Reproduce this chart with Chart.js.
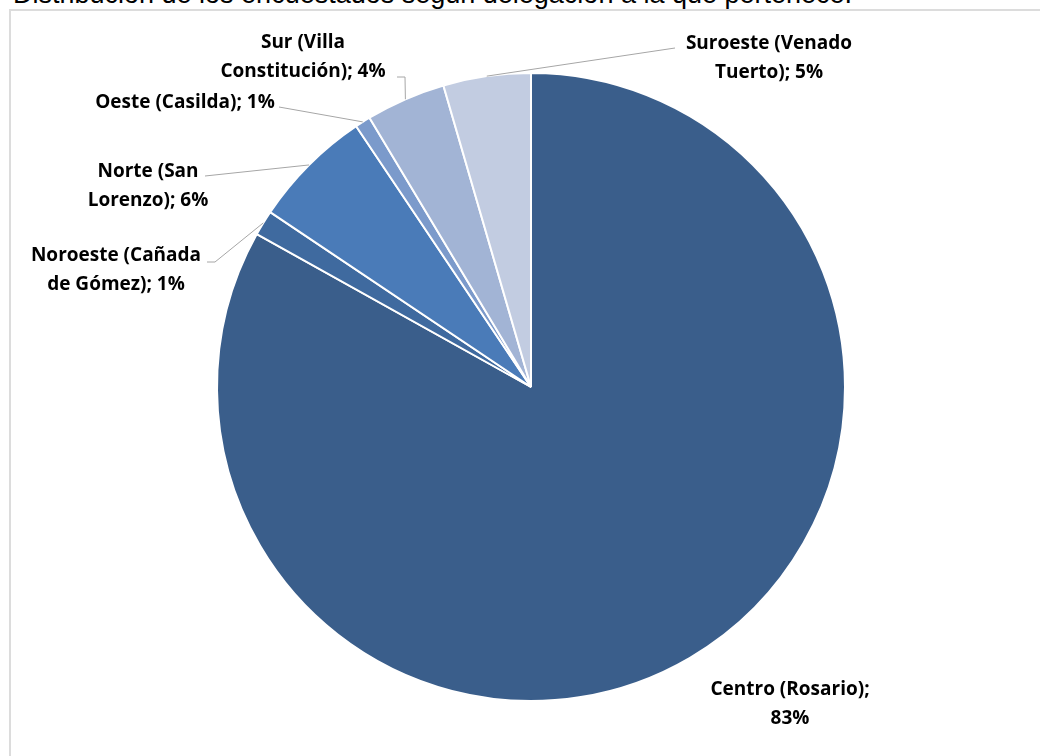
<!DOCTYPE html>
<html>
<head>
<meta charset="utf-8">
<script src="https://cdn.jsdelivr.net/npm/chart.js@4.4.1/dist/chart.umd.min.js"></script>
<style>
  html, body { margin: 0; padding: 0; background: #fff; overflow: hidden; }
  #title {
    position: absolute; left: 13px; top: -19px;
    font: 27px "Liberation Sans", Arial, sans-serif; line-height: 27px;
    color: #000; white-space: nowrap;
  }
  #frame {
    position: absolute; left: 9px; top: 9px; width: 1100px; height: 800px;
    border: 2px solid #dcdcdc; box-sizing: border-box;
  }
  #wrap { position: absolute; left: 0; top: 0; width: 1040px; height: 756px; }
</style>
</head>
<body>
<div id="title">Distribución de los encuestados según delegación a la que pertenece.</div>
<div id="frame"></div>
<div id="wrap"><canvas id="pie-chart"></canvas></div>
<script>
// delegaciones, en el orden del gráfico (desde las 12 en sentido horario)
var categories = ["Centro (Rosario)", "Noroeste (Cañada de Gómez)", "Norte (San Lorenzo)",
  "Oeste (Casilda)", "Sur (Villa Constitución)", "Suroeste (Venado Tuerto)"];
var shares = [83.1, 1.3, 6.2, 0.8, 4.1, 4.5];
var colors = ["#3a5e8b", "#3f6a9f", "#4a7bb8", "#7b9acb", "#a2b4d5", "#c2cce1"];

// posicion de las etiquetas respecto al centro de la torta (solo estilo)
var labelLayout = [
  { dx: 259, dy: 308, wrap: 180, leader: null },
  { dx: -415, dy: -126, wrap: 185, leader: [[-324, -125], [-316, -125]] },
  { dx: -383, dy: -210, wrap: 140, leader: [[-326, -211]] },
  { dx: -346, dy: -279, wrap: 240, leader: [[-252, -280]] },
  { dx: -228, dy: -339, wrap: 195, leader: [[-134, -310], [-126, -310]] },
  { dx: 238, dy: -338, wrap: 185, leader: [[144, -339]] }
];
var labelFont = 'bold 19px "Open Sans", sans-serif';
var lineGap = 29;

function wrapText(ctx, text, maxWidth) {
  var words = text.split(" ");
  var lines = [];
  var line = "";
  words.forEach(function (w) {
    var test = line ? line + " " + w : w;
    if (line && ctx.measureText(test).width > maxWidth) {
      lines.push(line);
      line = w;
    } else {
      line = test;
    }
  });
  if (line) lines.push(line);
  return lines;
}

var pieLabels = {
  id: "pieLabels",
  afterDatasetsDraw: function (chart) {
    var ctx = chart.ctx;
    var arcs = chart.getDatasetMeta(0).data;
    ctx.save();
    ctx.font = labelFont;
    arcs.forEach(function (arc, i) {
      var p = arc.getProps(["x", "y", "startAngle", "endAngle", "outerRadius"], true);
      var lay = labelLayout[i];
      var mid = (p.startAngle + p.endAngle) / 2;
      if (lay.leader) {
        ctx.strokeStyle = "#a6a6a6";
        ctx.lineWidth = 1;
        ctx.beginPath();
        lay.leader.forEach(function (pt, k) {
          if (k === 0) ctx.moveTo(p.x + pt[0], p.y + pt[1]);
          else ctx.lineTo(p.x + pt[0], p.y + pt[1]);
        });
        ctx.lineTo(p.x + Math.cos(mid) * p.outerRadius, p.y + Math.sin(mid) * p.outerRadius);
        ctx.stroke();
      }
      var text = categories[i] + "; " + Math.round(shares[i]) + "%";
      var lines = wrapText(ctx, text, lay.wrap);
      ctx.fillStyle = "#000";
      ctx.textAlign = "center";
      ctx.textBaseline = "alphabetic";
      lines.forEach(function (ln, k) {
        ctx.fillText(ln, p.x + lay.dx, p.y + lay.dy + k * lineGap);
      });
    });
    ctx.restore();
  }
};

var ctx = document.getElementById("pie-chart").getContext("2d");
var myChart = new Chart(ctx, {
  type: "pie",
  data: {
    labels: categories,
    datasets: [{
      data: shares,
      backgroundColor: colors,
      borderColor: "#ffffff",
      borderWidth: 2
    }]
  },
  options: {
    responsive: true,
    maintainAspectRatio: false,
    animation: false,
    radius: 314,
    layout: { padding: { left: 22, right: 0, top: 18, bottom: 0 } },
    plugins: {
      legend: { display: false },
      tooltip: { enabled: false },
      title: { display: false }
    }
  },
  plugins: [pieLabels]
});
</script>
</body>
</html>
